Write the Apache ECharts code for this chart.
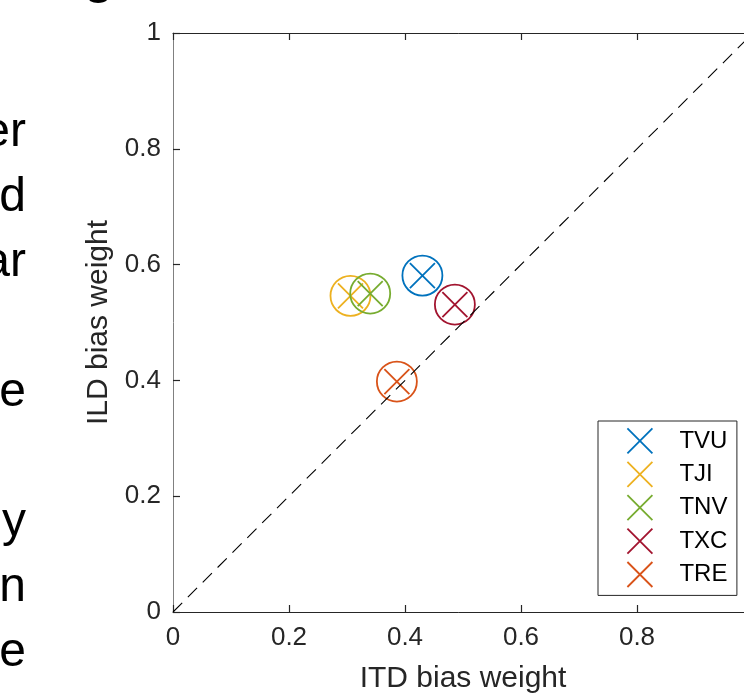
<!DOCTYPE html>
<html>
<head>
<meta charset="utf-8">
<script src="https://cdn.jsdelivr.net/npm/echarts@6/dist/echarts.min.js"></script>
<style>html,body{margin:0;padding:0;background:#fff;}#c{width:744px;height:694px;}</style>
</head>
<body>
<div id="c"></div>
<script>
const subjects = ['TVU', 'TJI', 'TNV', 'TXC', 'TRE'];
const itdWeights = [0.430, 0.306, 0.340, 0.486, 0.386];
const ildWeights = [0.581, 0.546, 0.550, 0.531, 0.398];
const subjectColors = ['#0072BD', '#EDB120', '#77AC30', '#A2142F', '#D95319'];
const unityLine = [[0, 0], [1, 1]];
const axisMin = 0, axisMax = 1, tickStep = 0.2;
const sideText = [['er', 147], ['d', 212], ['ar', 277], ['e', 407], ['y', 537], ['n', 602], ['e', 667]];

const FONT = 'Liberation Sans, Arial, Helvetica, sans-serif';
const AX = '#262626';
const XPATH = 'path://M0,0L10,10M10,0L0,10';

const series = [];
subjects.forEach((s, i) => {
  series.push({
    name: s, type: 'scatter', symbol: XPATH, symbolSize: 25,
    data: [[itdWeights[i], ildWeights[i]]],
    itemStyle: { color: 'transparent', borderColor: subjectColors[i], borderWidth: 1.8, opacity: 1 },
    silent: true, z: 3
  });
  series.push({
    name: s + ' circle', type: 'scatter', symbol: 'circle', symbolSize: 40,
    data: [[itdWeights[i], ildWeights[i]]],
    itemStyle: { color: 'transparent', borderColor: subjectColors[i], borderWidth: 1.8, opacity: 1 },
    silent: true, z: 3
  });
});
series.push({
  type: 'line', data: unityLine, symbol: 'none', silent: true, z: 4,
  lineStyle: { color: '#000', width: 1.1, type: [13, 8] }
});

// baseline offset for 48px text drawn with top alignment
const BASE_OFF = 38;
const graphics = sideText.map(([t, y]) => ({
  type: 'text', x: 26, y: y - BASE_OFF, silent: true,
  style: { text: t, font: '48px ' + FONT, fill: '#000', align: 'right', verticalAlign: 'top' }
}));
graphics.push({
  type: 'text', x: 84, y: -6 - BASE_OFF, silent: true,
  style: { text: 'g', font: 'bold 48px ' + FONT, fill: '#000', align: 'left', verticalAlign: 'top' }
});

const axisCommon = {
  type: 'value', min: axisMin, max: axisMax, interval: tickStep,
  splitLine: { show: false },
  axisLine: { show: true, onZero: false, lineStyle: { color: AX, width: 1 } },
  axisTick: { show: true, inside: true, length: 7, lineStyle: { color: AX, width: 1.2 } }
};

const chart = echarts.init(document.getElementById('c'), null, { renderer: 'canvas' });
chart.setOption({
  animation: false,
  backgroundColor: '#fff',
  grid: { left: 173, top: 33, width: 580, height: 579, containLabel: false, outerBoundsMode: 'none' },
  xAxis: [
    Object.assign({}, axisCommon, {
      position: 'bottom',
      name: 'ITD bias weight', nameLocation: 'middle', nameGap: 52,
      nameTextStyle: { fontFamily: FONT, fontSize: 30, color: AX },
      axisLabel: { fontFamily: FONT, fontSize: 26, color: AX, margin: 13 }
    }),
    Object.assign({}, axisCommon, { position: 'top', axisLabel: { show: false } })
  ],
  yAxis: [
    Object.assign({}, axisCommon, {
      position: 'left',
      name: 'ILD bias weight', nameLocation: 'middle', nameGap: 58,
      nameTextStyle: { fontFamily: FONT, fontSize: 30, color: AX },
      axisLabel: { fontFamily: FONT, fontSize: 26, color: AX, margin: 12 },
      axisLine: { show: true, onZero: false, lineStyle: { color: '#808080', width: 1 } }
    }),
    Object.assign({}, axisCommon, { position: 'right', axisLabel: { show: false } })
  ],
  legend: {
    data: subjects, orient: 'vertical', left: 598, top: 421,
    itemWidth: 25, itemHeight: 25, itemGap: 6.6,
    padding: [6.5, 9.5, 7.5, 28.5],
    backgroundColor: '#fff', borderColor: AX, borderWidth: 1, borderRadius: 0,
    selectedMode: false,
    itemStyle: { borderWidth: 1.8 },
    textStyle: { fontFamily: FONT, fontSize: 24, lineHeight: 25, color: '#000', padding: [0, 0, 0, 22] }
  },
  graphic: graphics,
  series: series
});
</script>
</body>
</html>
